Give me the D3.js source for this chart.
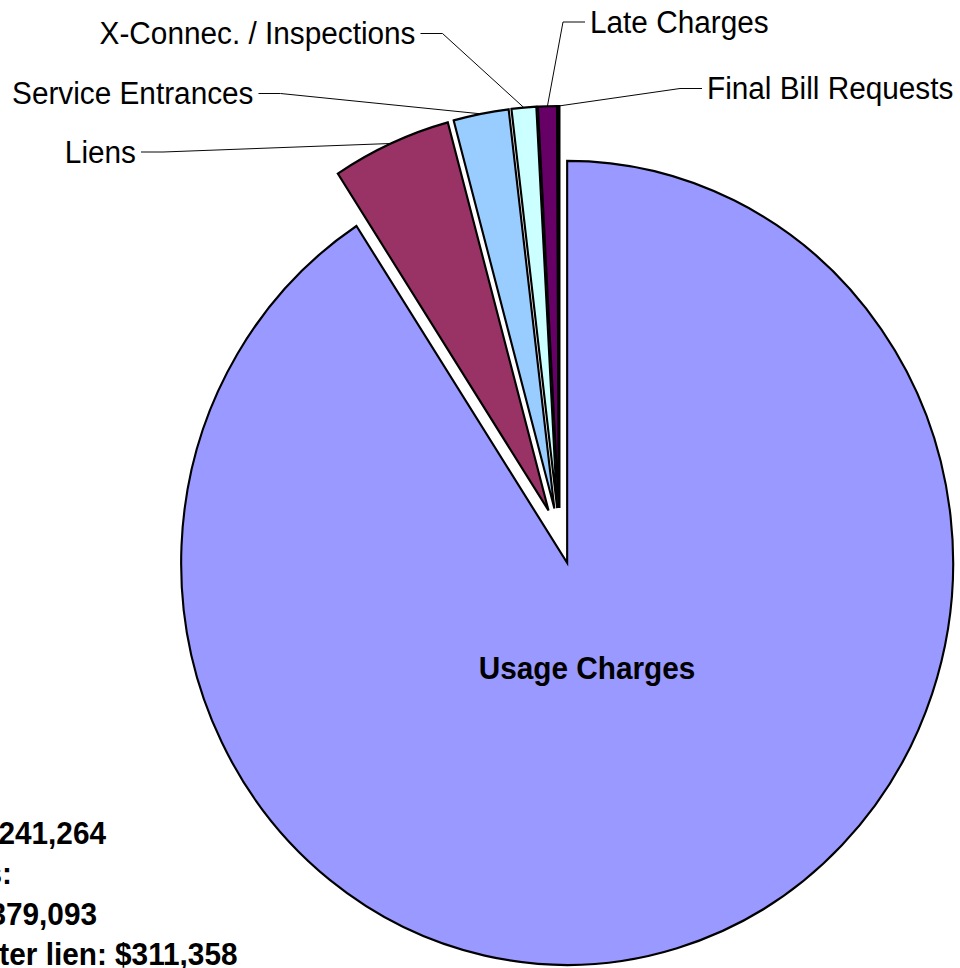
<!DOCTYPE html>
<html>
<head>
<meta charset="utf-8">
<script src="https://cdn.jsdelivr.net/npm/d3@7"></script>
<style>
  body { margin: 0; background: #fff; }
  svg { display: block; }
  text { font-family: "Liberation Sans", Arial, sans-serif; }
</style>
</head>
<body>
<svg></svg>
<script>
// revenue by source, clockwise from 12 o'clock
const categories = ['Usage Charges', 'Liens', 'Service Entrances', 'X-Connec. / Inspections', 'Late Charges', 'Final Bill Requests']
const revenue = [5667706, 311358, 144200, 64300, 49300, 4400]
const colors = ['#9999FF', '#993366', '#99CCFF', '#CCFFFF', '#660066', '#FF8080']

// side note, cut off by the left edge in the original
const notes = ['FY Total Billed: $6,241,264', 'Total Collections:', '$5,379,093', 'Collected after lien: $311,358']

const WIDTH = 960
const HEIGHT = 968
const SX = 386 / 402          // the original picture is squeezed horizontally
const X = px => px / SX       // real pixel -> chart space
const R = 402
const EXPLODE = 28
const CX = X(559.5)
const CY = 536
const FONT = 31

const svg = d3.select('svg')
    .attr('width', WIDTH)
    .attr('height', HEIGHT)

const chart = svg.append('g').attr('transform', `scale(${SX},1)`)

const pie = d3.pie().sort(null).value(d => d.value)
const slices = pie(categories.map((c, i) => ({ name: c, value: revenue[i], color: colors[i] })))
const arc = d3.arc().innerRadius(0).outerRadius(R)
const mid = d => (d.startAngle + d.endAngle) / 2

//slices, every one pulled out along its bisector
chart.selectAll('.slice')
    .data(slices)
    .enter()
    .append('path')
    .classed('slice', true)
    .attr('transform', d => `translate(${CX + EXPLODE * Math.sin(mid(d))},${CY - EXPLODE * Math.cos(mid(d))})`)
    .attr('d', arc)
    .attr('fill', d => d.data.color)
    .attr('stroke', '#000')
    .attr('stroke-width', 2.2)

//label placement (real pixels)
const labelLayout = {
    'Usage Charges': { x: 587, y: 668, anchor: 'middle', bold: true, leader: false },
    'Liens': { x: 136, y: 152, anchor: 'end' },
    'Service Entrances': { x: 253.5, y: 93.5, anchor: 'end' },
    'X-Connec. / Inspections': { x: 415.5, y: 33.5, anchor: 'end' },
    'Late Charges': { x: 590, y: 22, anchor: 'start' },
    'Final Bill Requests': { x: 707, y: 88.5, anchor: 'start' }
}

const leaders = slices.filter(d => labelLayout[d.data.name].leader !== false)

chart.selectAll('.leader')
    .data(leaders)
    .enter()
    .append('polyline')
    .classed('leader', true)
    .attr('points', d => {
        const L = labelLayout[d.data.name]
        const dir = L.anchor === 'end' ? 1 : -1
        const x0 = L.x + dir * 5
        const x1 = x0 + dir * 22
        const m = mid(d)
        const ex = CX + (R + EXPLODE) * Math.sin(m)
        const ey = CY - (R + EXPLODE) * Math.cos(m)
        return `${X(x0)},${L.y} ${X(x1)},${L.y} ${ex},${ey}`
    })
    .attr('fill', 'none')
    .attr('stroke', '#000')
    .attr('stroke-width', 1)

chart.selectAll('.label')
    .data(slices)
    .enter()
    .append('text')
    .classed('label', true)
    .text(d => d.data.name)
    .attr('x', d => X(labelLayout[d.data.name].x))
    .attr('y', d => labelLayout[d.data.name].y)
    .attr('dy', '0.35em')
    .attr('text-anchor', d => labelLayout[d.data.name].anchor)
    .attr('font-weight', d => labelLayout[d.data.name].bold ? 'bold' : 'normal')
    .attr('font-size', FONT)
    .attr('fill', '#000')

//notes block, right ends of the visible parts
const noteEnds = [106, 12, 97, 237.5]
const noteY = [833, 873.5, 914, 954.5]

chart.selectAll('.note')
    .data(notes)
    .enter()
    .append('text')
    .classed('note', true)
    .text(d => d)
    .attr('x', (d, i) => X(noteEnds[i]))
    .attr('y', (d, i) => noteY[i])
    .attr('dy', '0.35em')
    .attr('text-anchor', 'end')
    .attr('font-weight', 'bold')
    .attr('font-size', FONT)
    .attr('fill', '#000')
</script>
</body>
</html>
